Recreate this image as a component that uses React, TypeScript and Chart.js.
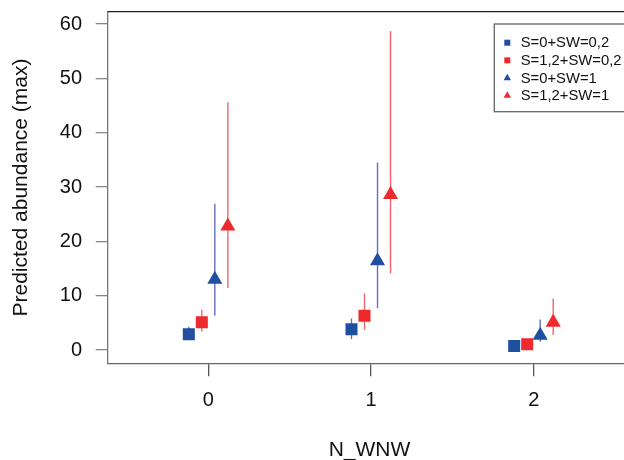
import React, { useEffect, useRef } from 'react';
import { Chart, registerables } from 'chart.js';
Chart.register(...registerables);

const groups = [0, 1, 2];
const seriesLabels = ['S=0+SW=0,2', 'S=1,2+SW=0,2', 'S=0+SW=1', 'S=1,2+SW=1'];
const dodge = [-0.12, -0.04, 0.04, 0.12];

const s0sw02 = [2.9, 3.8, 0.74];
const s0sw02Lo = [2.2, 2.0, 0.6];
const s0sw02Hi = [4.3, 5.8, 0.9];

const s12sw02 = [5.1, 6.3, 1.05];
const s12sw02Lo = [3.4, 3.7, 0.8];
const s12sw02Hi = [7.4, 10.4, 1.4];

const s0sw1 = [13.0, 16.4, 2.7];
const s0sw1Lo = [6.3, 7.7, 1.5];
const s0sw1Hi = [26.9, 34.5, 5.6];

const s12sw1 = [22.8, 28.6, 5.1];
const s12sw1Lo = [11.4, 14.1, 2.75];
const s12sw1Hi = [45.6, 58.7, 9.5];

const yTicks = [0, 10, 20, 30, 40, 50, 60];

const values = [s0sw02, s12sw02, s0sw1, s12sw1];
const lows = [s0sw02Lo, s12sw02Lo, s0sw1Lo, s12sw1Lo];
const highs = [s0sw02Hi, s12sw02Hi, s0sw1Hi, s12sw1Hi];

const BLUE = '#1f4fa0';
const RED = '#ee2a2e';
const BLUE_BAR = '#5f70c2';
const RED_BAR = '#f2646c';
const colors = [BLUE, RED, BLUE, RED];
const barColors = [BLUE_BAR, RED_BAR, BLUE_BAR, RED_BAR];
const shapes = ['rect', 'rect', 'triangle', 'triangle'];
const FONT = "'Liberation Sans', Arial, sans-serif";

const errorBarPlugin = {
  id: 'errorBars',
  beforeDatasetsDraw(chart: any) {
    const ctx = chart.ctx;
    const yScale = chart.scales.y;
    ctx.save();
    ctx.lineWidth = 1.4;
    values.forEach((_, i) => {
      const meta = chart.getDatasetMeta(i);
      meta.data.forEach((pt: any, j: number) => {
        const yHi = yScale.getPixelForValue(highs[i][j]);
        const yLo = yScale.getPixelForValue(lows[i][j]);
        ctx.strokeStyle = barColors[i];
        ctx.beginPath();
        ctx.moveTo(pt.x, yLo);
        ctx.lineTo(pt.x, yHi);
        ctx.stroke();
      });
    });
    ctx.restore();
  },
};

const framePlugin = {
  id: 'frameAndLegend',
  afterDraw(chart: any) {
    const ctx = chart.ctx;
    const { left, right, top } = chart.chartArea;
    ctx.save();
    ctx.strokeStyle = '#222';
    ctx.lineWidth = 1.3;
    ctx.beginPath();
    ctx.moveTo(left, top);
    ctx.lineTo(right, top);
    ctx.lineTo(right, chart.chartArea.bottom);
    ctx.stroke();

    // legend
    const lx = 494.3, ly = 24, lw = 200, lh = 87.7;
    ctx.strokeStyle = '#666';
    ctx.lineWidth = 1.3;
    ctx.fillStyle = '#fff';
    ctx.fillRect(lx, ly, lw, lh);
    ctx.strokeRect(lx, ly, lw, lh);
    ctx.font = `14.8px ${FONT}`;
    ctx.textBaseline = 'middle';
    ctx.textAlign = 'left';
    seriesLabels.forEach((lab, i) => {
      const cy = 42.7 + i * 17.65;
      const mx = 507.3;
      ctx.fillStyle = colors[i];
      if (shapes[i] === 'rect') {
        ctx.fillRect(mx - 3, cy - 3, 6, 6);
      } else {
        const r = 4.3;
        ctx.beginPath();
        ctx.moveTo(mx, cy - r);
        ctx.lineTo(mx + r * 0.866, cy + r / 2);
        ctx.lineTo(mx - r * 0.866, cy + r / 2);
        ctx.closePath();
        ctx.fill();
      }
      ctx.fillStyle = '#111';
      ctx.fillText(lab, 520.7, cy + 0.5);
    });
    ctx.restore();
  },
};

export default function App() {
  const ref = useRef<HTMLCanvasElement | null>(null);
  useEffect(() => {
    if (!ref.current) return;
    const datasets = values.map((vals, i) => ({
      label: seriesLabels[i],
      data: groups.map((g, j) => ({ x: g + dodge[i], y: vals[j] })),
      pointStyle: shapes[i],
      pointRadius: shapes[i] === 'rect' ? 8.5 : 8.7,
      pointHoverRadius: shapes[i] === 'rect' ? 8.5 : 8.7,
      backgroundColor: colors[i],
      borderColor: colors[i],
      borderWidth: 0,
      showLine: false,
    }));
    const chart = new Chart(ref.current, {
      type: 'scatter',
      data: { datasets },
      plugins: [errorBarPlugin, framePlugin],
      options: {
        animation: false,
        responsive: false,
        maintainAspectRatio: false,
        layout: { padding: { top: 11.7, left: 0, right: 4, bottom: 0 } },
        plugins: { legend: { display: false }, tooltip: { enabled: false } },
        scales: {
          x: {
            type: 'linear',
            min: -0.6185,
            max: 2.6,
            afterFit(scale: any) {
              scale.height = 96.7;
              scale.paddingLeft = 0;
              scale.paddingRight = 0;
            },
            ticks: {
              stepSize: 1,
              includeBounds: false,
              padding: 12.5,
              color: '#111',
              font: { family: FONT, size: 20 },
              callback: (v: any) => String(v),
            },
            grid: { drawOnChartArea: false, drawTicks: true, tickLength: 13, color: '#555', lineWidth: 1.3 },
            border: { display: true, color: '#666', width: 1.3 },
            title: {
              display: true,
              text: 'N_WNW',
              color: '#111',
              font: { family: FONT, size: 21, lineHeight: 1 },
              padding: { top: 0, bottom: -0.6 },
            },
          },
          y: {
            type: 'linear',
            min: -2.448,
            max: 62.27,
            afterFit(scale: any) {
              scale.width = 107.7;
              scale.paddingTop = 0;
              scale.paddingBottom = 0;
            },
            afterBuildTicks(scale: any) {
              scale.ticks = yTicks.map((v) => ({ value: v }));
            },
            ticks: {
              padding: 13.7,
              color: '#111',
              font: { family: FONT, size: 20 },
            },
            grid: { drawOnChartArea: false, drawTicks: true, tickLength: 12, color: '#888', lineWidth: 1.3 },
            border: { display: true, color: '#777', width: 1.3 },
            title: {
              display: true,
              text: 'Predicted abundance (max)',
              color: '#111',
              font: { family: FONT, size: 21, lineHeight: 1 },
              padding: { top: 10.5, bottom: 0 },
            },
          },
        },
      },
    } as any);
    return () => chart.destroy();
  }, []);
  return (
    <div style={{ position: 'fixed', left: 0, top: 0, width: 624, height: 460, overflow: 'hidden', background: '#fff' }}>
      <canvas ref={ref} width={640} height={460} style={{ width: 640, height: 460, display: 'block' }} />
    </div>
  );
}
